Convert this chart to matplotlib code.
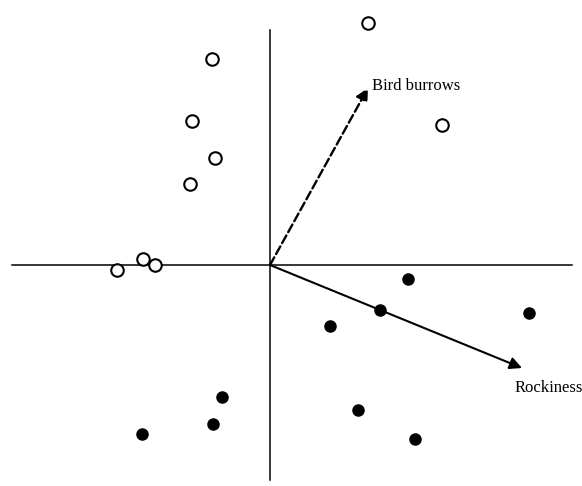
import matplotlib.pyplot as plt

# ordination scores (site points)
open_x = [0.98, -0.58, -0.78, -0.55, -0.80, 1.72, -1.27, -1.15, -1.53]
open_y = [2.42, 2.06, 1.44, 1.07, 0.81, 1.40, 0.06, 0.00, -0.05]
filled_x = [1.38, 0.60, 1.10, 2.59, -0.48, 0.88, -0.57, -1.28, 1.45]
filled_y = [-0.14, -0.61, -0.45, -0.48, -1.32, -1.45, -1.59, -1.69, -1.74]

# environmental vectors
vec_names = ['Bird burrows', 'Rockiness']
vec_x = [0.98, 2.52]
vec_y = [1.77, -1.03]

plt.rcParams['font.family'] = ['Liberation Serif', 'DejaVu Serif']

fig = plt.figure(figsize=(5.82, 4.86), dpi=100)
ax = fig.add_axes([0, 0, 1, 1])
ax.set_xlim(-2.70, 3.12)
ax.set_ylim(-2.21, 2.65)
ax.axis('off')

# axes through origin
ax.plot([0, 0], [-2.15, 2.35], color='black', lw=1.1)
ax.plot([-2.58, 3.02], [0, 0], color='black', lw=1.1)

# vectors
ax.annotate('', xy=(vec_x[0], vec_y[0]), xytext=(0, 0),
            arrowprops=dict(arrowstyle='-|>', ls='--', lw=1.7, color='black',
                            mutation_scale=18, shrinkA=0, shrinkB=0))
ax.annotate('', xy=(vec_x[1], vec_y[1]), xytext=(0, 0),
            arrowprops=dict(arrowstyle='-|>', lw=1.5, color='black',
                            mutation_scale=18, shrinkA=0, shrinkB=0))
ax.text(1.02, 1.79, vec_names[0], fontsize=12, va='center', ha='left')
ax.text(2.45, -1.23, vec_names[1], fontsize=12, va='center', ha='left')

ax.plot(open_x, open_y, 'o', ms=9, mfc='white', mec='black', mew=1.5)
ax.plot(filled_x, filled_y, 'o', ms=8, mfc='black', mec='black')

plt.savefig('out.png', dpi=100)
